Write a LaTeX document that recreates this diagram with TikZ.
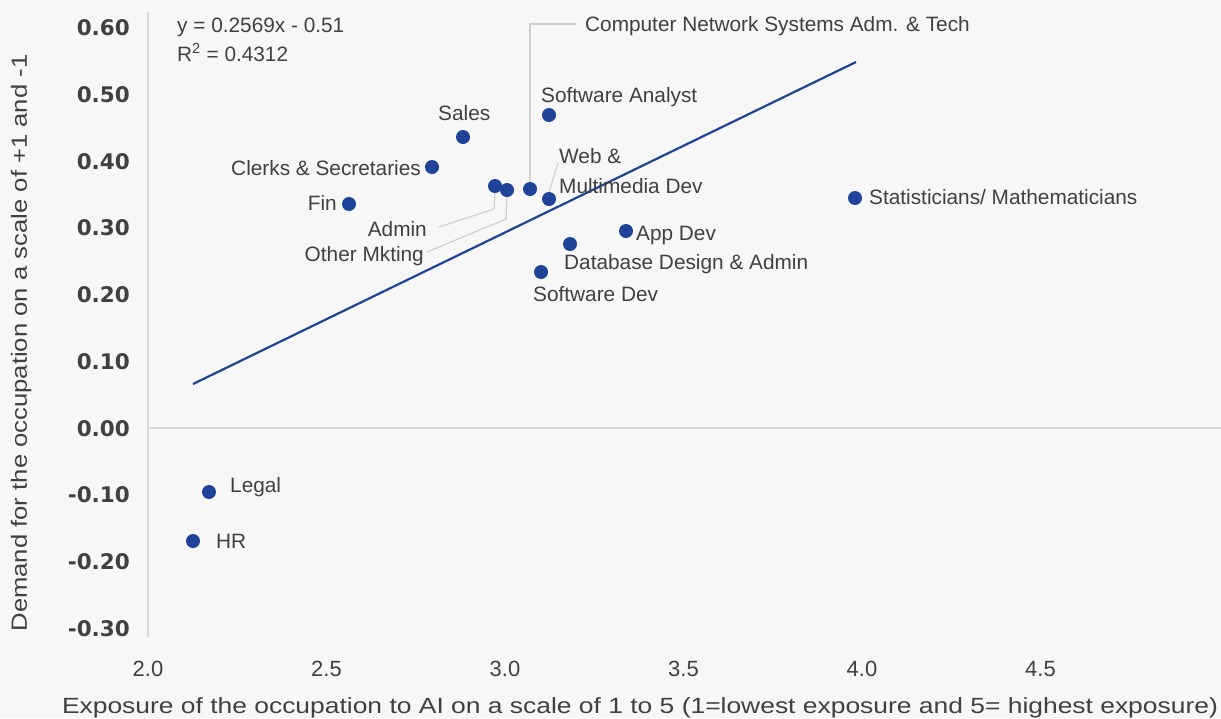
\documentclass[tikz,border=0pt]{standalone}
\usepackage{fontspec}
\usepackage{graphicx}
\setmainfont{Liberation Sans}
\newfontfamily\tickfont{DejaVu Sans}
\definecolor{bg}{HTML}{F7F7F7}
\definecolor{txt}{HTML}{404040}
\definecolor{axisgray}{HTML}{D9D9D9}
\definecolor{leadergray}{HTML}{CFCFCF}
\definecolor{ptblue}{HTML}{1F4399}
\begin{document}
\begin{tikzpicture}[x=1pt,y=-1pt,
  lab/.style={inner sep=0pt, text=txt, font=\fontsize{20.8}{24}\selectfont},
  ytick/.style={inner sep=0pt, text=txt, anchor=base east, font=\tickfont\bfseries\fontsize{21.5}{24}\selectfont},
  xtick/.style={inner sep=0pt, text=txt, anchor=base, font=\fontsize{22}{26}\selectfont},
  axistitle/.style={inner sep=0pt, text=txt, anchor=base, font=\fontsize{22}{26}\selectfont},
  dot/.style={circle, fill=ptblue, minimum size=14pt, inner sep=0pt},
  leader/.style={draw=leadergray, line width=1.2pt},
  axisline/.style={draw=axisgray, line width=2pt},
  trend/.style={draw=ptblue, line width=2.2pt}]
\fill[bg] (0,0) rectangle (1221,718);
\useasboundingbox (0,0) rectangle (1221,718);

% axes
\coordinate (ytop) at (148,12);
\coordinate (ybot) at (148,637);
\coordinate (x0l) at (148,428);
\coordinate (x0r) at (1221,428);
\draw[axisline] (ytop) -- (ybot);
\draw[axisline] (x0l) -- (x0r);

% y ticks
\foreach \v/\t in {0.6/0.60,0.5/0.50,0.4/0.40,0.3/0.30,0.2/0.20,0.1/0.10,0/0.00,-0.1/-0.10,-0.2/-0.20,-0.3/-0.30}
  \node[ytick] at (130,{428-\v*666.7+8}) {\t};

% x ticks
\foreach \v in {2.0,2.5,3.0,3.5,4.0,4.5}
  \node[xtick] at ({148+(\v-2)*357},676) {\v};

% axis titles
\node[axistitle] (xtitle) at (640,713) {\resizebox{1156pt}{\height}{Exposure of the occupation to AI on a scale of 1 to 5 (1=lowest exposure and 5= highest exposure)}};
\node[axistitle, rotate=90] (ytitle) at (27,343) {\resizebox{577pt}{\height}{Demand for the occupation on a scale of +1 and -1}};

% trend line and equation
\coordinate (t0) at (193,384);
\coordinate (t1) at (856,62);
\draw[trend] (t0) -- (t1);
\node[lab, anchor=base west] (eq) at (177,32) {y = 0.2569x - 0.51};
\node[lab, anchor=base west] (r2) at (177,61) {R\textsuperscript{2} = 0.4312};

% data points
\node[dot] (d-sales) at (463,137) {};
\node[dot] (d-swa) at (549,115) {};
\node[dot] (d-clerks) at (432,167) {};
\node[dot] (d-fin) at (349,204) {};
\node[dot] (d-admin) at (495,186) {};
\node[dot] (d-other) at (507,190) {};
\node[dot] (d-cn) at (530,189) {};
\node[dot] (d-web) at (549,199) {};
\node[dot] (d-stat) at (855,198) {};
\node[dot] (d-app) at (626,231) {};
\node[dot] (d-db) at (570,244) {};
\node[dot] (d-swd) at (541,272) {};
\node[dot] (d-legal) at (209,492) {};
\node[dot] (d-hr) at (193,541) {};

% point labels
\node[lab, anchor=base west] (l-sales) at (438,120) {Sales};
\node[lab, anchor=base west] (l-swa) at (541,102) {Software Analyst};
\node[lab, anchor=base east] (l-clerks) at (421,175) {Clerks \& Secretaries};
\node[lab, anchor=base east] (l-fin) at (337,210) {Fin};
\node[lab, anchor=base east] (l-admin) at (427,236) {Admin};
\node[lab, anchor=base east] (l-other) at (424,261) {Other Mkting};
\node[lab, anchor=base west] (l-cn) at (585,31) {Computer Network Systems Adm. \& Tech};
\node[lab, anchor=base west] (l-web1) at (559,163) {Web \&};
\node[lab, anchor=base west] (l-web2) at (559,193) {Multimedia Dev};
\node[lab, anchor=base west] (l-stat) at (869,204) {Statisticians/ Mathematicians};
\node[lab, anchor=base west] (l-app) at (636,240) {App Dev};
\node[lab, anchor=base west] (l-db) at (564,269) {Database Design \& Admin};
\node[lab, anchor=base west] (l-swd) at (533,301) {Software Dev};
\node[lab, anchor=base west] (l-legal) at (230,492) {Legal};
\node[lab, anchor=base west] (l-hr) at (216,548) {HR};

% leader lines
\coordinate (cn-bend) at (530,24);
\coordinate (cn-end) at (576,24);
\draw[leader] (d-cn.north) -- (cn-bend) -- (cn-end);
\coordinate (web-end) at (558,163);
\draw[leader] (d-web.north) -- (web-end);
\coordinate (adm-bend) at (494,209);
\coordinate (adm-end) at (439,227);
\draw[leader] (d-admin.south) -- (adm-bend) -- (adm-end);
\coordinate (oth-bend) at (506,219);
\coordinate (oth-end) at (427,252);
\draw[leader] (d-other.south) -- (oth-bend) -- (oth-end);
\end{tikzpicture}
\end{document}
